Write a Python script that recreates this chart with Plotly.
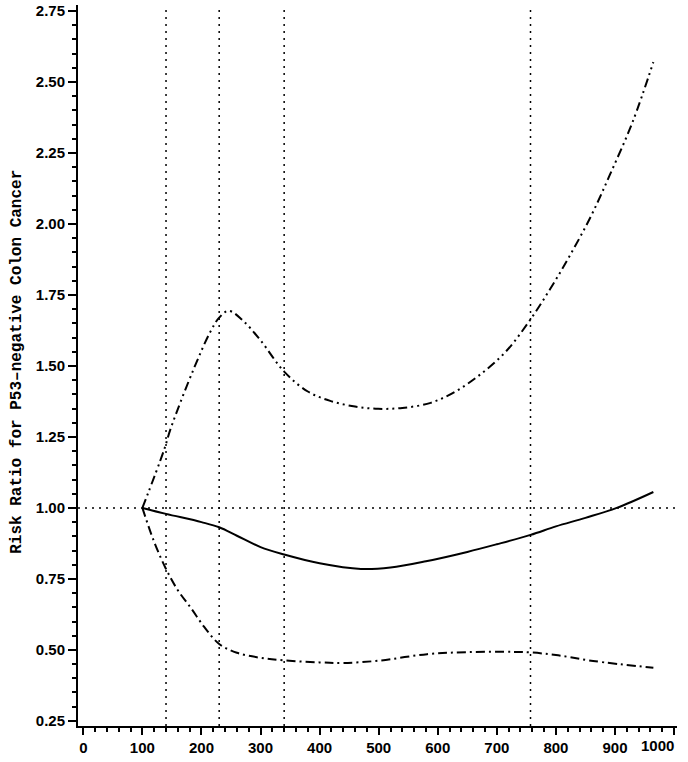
import plotly.graph_objects as go

# estimated curve values
x_rr = [100, 140, 200, 230, 260, 300, 340, 400, 470, 520, 580, 650, 700, 757, 800, 850, 903, 965]
rr = [1.000, 0.979, 0.950, 0.932, 0.902, 0.862, 0.836, 0.805, 0.785, 0.790, 0.812, 0.845,
      0.872, 0.905, 0.935, 0.965, 1.000, 1.056]

x_upper = [100, 136, 148, 187, 215, 230, 246, 270, 300, 340, 380, 418, 460, 499, 540, 588, 630,
           672, 715, 755, 790, 824, 860, 892, 930, 965]
upper = [1.00, 1.20, 1.28, 1.49, 1.62, 1.67, 1.694, 1.66, 1.59, 1.48, 1.41, 1.377, 1.357, 1.349,
         1.352, 1.37, 1.41, 1.47, 1.55, 1.658, 1.77, 1.89, 2.03, 2.176, 2.36, 2.57]

x_lower = [100, 120, 140, 160, 182, 205, 230, 260, 300, 340, 400, 440, 500, 582, 650, 728, 757,
           800, 863, 965]
lower = [1.00, 0.88, 0.785, 0.71, 0.648, 0.58, 0.521, 0.49, 0.472, 0.463, 0.456, 0.454, 0.462,
         0.485, 0.492, 0.493, 0.491, 0.482, 0.461, 0.437]

ref_x = [140, 230, 340, 757]
ref_y = 1.0

x_ticks = list(range(0, 1001, 100))
x_labels = [str(v) for v in x_ticks]
last_label = x_labels[-1]
x_labels[-1] = ""  # drawn separately, right-aligned so it stays on the page
y_ticks = [0.25, 0.50, 0.75, 1.00, 1.25, 1.50, 1.75, 2.00, 2.25, 2.50, 2.75]

tick_font = dict(family="Liberation Sans", size=15, color="black", weight="bold")

fig = go.Figure()

fig.add_trace(go.Scatter(x=x_upper, y=upper, mode="lines", line_shape="spline",
                         line=dict(color="black", width=2, dash="9px,4px,2px,4px,2px,4px")))
fig.add_trace(go.Scatter(x=x_lower, y=lower, mode="lines", line_shape="spline",
                         line=dict(color="black", width=2, dash="9px,4px,2px,4px")))
fig.add_trace(go.Scatter(x=x_rr, y=rr, mode="lines", line_shape="spline",
                         line=dict(color="black", width=2)))

for xv in ref_x:
    fig.add_vline(x=xv, line=dict(color="black", width=1.5, dash="2px,5px"))
fig.add_hline(y=ref_y, line=dict(color="black", width=1.5, dash="2px,5px"))

fig.update_layout(width=688, height=762,
                  margin=dict(l=78, r=11, t=5, b=36),
                  plot_bgcolor="white", paper_bgcolor="white",
                  showlegend=False,
                  xaxis=dict(range=[-9, 1005], tickvals=x_ticks, ticktext=x_labels,
                             showgrid=False, zeroline=False, automargin=False,
                             showline=True, linecolor="black", linewidth=2,
                             ticks="outside", ticklen=7, tickwidth=1.5, tickcolor="black",
                             tickfont=tick_font,
                             minor=dict(dtick=20, tick0=0, ticks="outside", ticklen=4,
                                        tickwidth=1.5, tickcolor="black", showgrid=False)),
                  yaxis=dict(range=[0.232, 2.771], tickvals=y_ticks, tickformat=".2f",
                             showgrid=False, zeroline=False, automargin=False,
                             showline=True, linecolor="black", linewidth=2,
                             ticks="outside", ticklen=8, tickwidth=1.5, tickcolor="black",
                             tickfont=tick_font,
                             minor=dict(dtick=0.05, tick0=0.25, ticks="outside", ticklen=4,
                                        tickwidth=1.5, tickcolor="black", showgrid=False)),
                  annotations=[dict(text="<b>Risk Ratio for P53\u2013negative Colon Cancer</b>",
                                    textangle=-90, x=-0.102, y=0.505, xanchor="center",
                                    yanchor="middle",
                                    xref="paper", yref="paper", showarrow=False,
                                    font=dict(family="Liberation Mono", size=16, color="black")),
                               dict(text=last_label, x=x_ticks[-1], y=0, xref="x", yref="paper",
                                    xanchor="right", yanchor="top", yshift=-9, xshift=2,
                                    showarrow=False, font=tick_font)])

# drop the default body margin so the figure sits at the page corner
fig.write_html("out.html", config={"displayModeBar": False},
               post_script="document.body.style.margin='0';")
